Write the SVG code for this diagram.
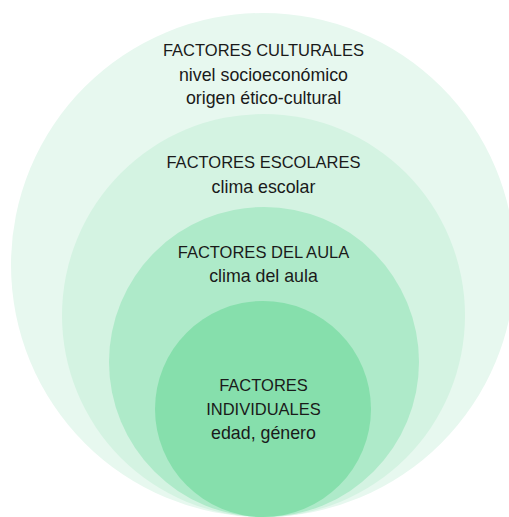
<svg xmlns="http://www.w3.org/2000/svg" width="509" height="517" viewBox="0 0 509 517">
<style>
text{font-family:"Liberation Sans",Arial,sans-serif;font-size:16.5px;fill:#1a1a1a;text-anchor:middle}
text.s{font-size:17.8px}
</style>
<rect width="509" height="517" fill="#ffffff"/>
<g id="culturales">
<circle cx="263" cy="265" r="252" fill="#e7f8ef"/>
<text x="263.5" y="56">FACTORES CULTURALES</text>
<text class="s" x="263.5" y="81">nivel socioeconómico</text>
<text class="s" x="263.5" y="104">origen ético-cultural</text>
</g>
<g id="escolares">
<circle cx="263.5" cy="315.5" r="201.5" fill="#d4f3e2"/>
<text x="263.5" y="168">FACTORES ESCOLARES</text>
<text class="s" x="263.5" y="193">clima escolar</text>
</g>
<g id="aula">
<circle cx="264" cy="362" r="155" fill="#aeeac9"/>
<text x="263.5" y="258">FACTORES DEL AULA</text>
<text class="s" x="263.5" y="282">clima del aula</text>
</g>
<g id="individuales">
<circle cx="263" cy="409" r="108" fill="#86dfac"/>
<text x="263.5" y="391">FACTORES</text>
<text x="263.5" y="415">INDIVIDUALES</text>
<text class="s" x="263.5" y="439">edad, género</text>
</g>
<g id="connectors"></g>
</svg>
